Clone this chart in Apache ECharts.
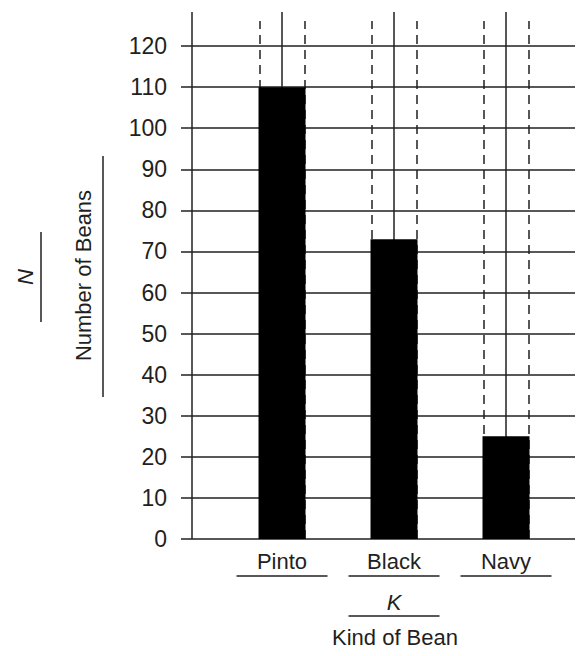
<!DOCTYPE html>
<html><head><meta charset="utf-8">
<script src="https://cdn.jsdelivr.net/npm/echarts@6/dist/echarts.min.js"></script>
<style>html,body{margin:0;padding:0;background:#fff}#c{width:582px;height:656px}</style>
</head><body><div id="c"></div>
<script>
const categories = ['Pinto', 'Black', 'Navy'];
const beanCounts = [110, 73, 25];
const yTickValues = [0, 10, 20, 30, 40, 50, 60, 70, 80, 90, 100, 110, 120];
const xAxisTitle = 'Kind of Bean';
const yAxisTitle = 'Number of Beans';
const xVariable = 'K';
const yVariable = 'N';

const INK = '#231f20';
const FONT = "'Liberation Sans', Arial, Helvetica, sans-serif";
const FS = 22;
const X_MIN = 0.098, X_MAX = 3.616, Y_AXIS_X = 0.196, Y_MAX = 128.3, DASH_TOP = 126.1, HALF = 0.2;

const solid = { color: INK, width: 1.5, type: 'solid' };
const dashed = { color: INK, width: 1.5, type: [9, 6] };
const markData = [];
markData.push([{ coord: [Y_AXIS_X, 0], lineStyle: solid }, { coord: [Y_AXIS_X, Y_MAX], lineStyle: solid }]);
yTickValues.forEach(v => markData.push([{ coord: [X_MIN, v], lineStyle: solid }, { coord: [X_MAX, v], lineStyle: solid }]));
categories.forEach((c, i) => {
  const x = i + 1;
  markData.push([{ coord: [x, 0], lineStyle: solid }, { coord: [x, Y_MAX], lineStyle: solid }]);
  [-HALF, HALF].forEach(d => markData.push([{ coord: [x + d, 0], lineStyle: dashed }, { coord: [x + d, DASH_TOP], lineStyle: dashed }]));
});

const chart = echarts.init(document.getElementById('c'), null, { renderer: 'svg' });
chart.setOption({
  animation: false,
  backgroundColor: '#fff',
  grid: { left: 181, right: 7, top: 12, bottom: 117, containLabel: false },
  xAxis: {
    type: 'value', min: X_MIN, max: X_MAX,
    axisLine: { show: false }, axisTick: { show: false }, splitLine: { show: false },
    axisLabel: {
      customValues: [1, 2, 3],
      formatter: v => categories[Math.round(v) - 1] || '',
      color: INK, fontFamily: FONT, fontSize: FS, margin: 11
    },
    name: xAxisTitle, nameLocation: 'middle', nameGap: 87,
    nameTextStyle: { color: INK, fontFamily: FONT, fontSize: FS, padding: [0, 0, 0, 34] }
  },
  yAxis: {
    type: 'value', min: 0, max: Y_MAX,
    axisLine: { show: false }, axisTick: { show: false }, splitLine: { show: false },
    axisLabel: { customValues: yTickValues, color: INK, fontFamily: FONT, fontSize: 23, margin: 14 },
    name: yAxisTitle, nameLocation: 'middle', nameRotate: 90, nameGap: 87,
    nameTextStyle: { color: INK, fontFamily: FONT, fontSize: FS }
  },
  series: [{
    type: 'bar', z: 3, barWidth: 47,
    itemStyle: { color: '#000' },
    data: categories.map((c, i) => [i + 1, beanCounts[i]]),
    markLine: { z: 1, silent: true, symbol: 'none', label: { show: false }, animation: false, data: markData }
  }]
});

const px = v => chart.convertToPixel({ xAxisIndex: 0 }, v);
const line = (x1, y1, x2, y2) => ({ type: 'line', silent: true, shape: { x1, y1, x2, y2 }, style: { stroke: INK, lineWidth: 1.5 } });
const g = [];
categories.forEach((c, i) => { const cx = px(i + 1); g.push(line(cx - 45.5, 576, cx + 45.5, 576)); });
const cK = px(2);
g.push({ type: 'text', x: cK, y: 602, style: { text: xVariable, font: `italic ${FS}px ${FONT}`, fill: INK, align: 'center', verticalAlign: 'middle' } });
g.push(line(cK - 45.5, 616, cK + 45.5, 616));
g.push({ type: 'text', x: 25, y: 277, rotation: Math.PI / 2, style: { text: yVariable, font: `italic ${FS}px ${FONT}`, fill: INK, align: 'center', verticalAlign: 'middle' } });
g.push(line(41, 232, 41, 322));
g.push(line(103, 156, 103, 397));
chart.setOption({ graphic: g });
</script></body></html>
